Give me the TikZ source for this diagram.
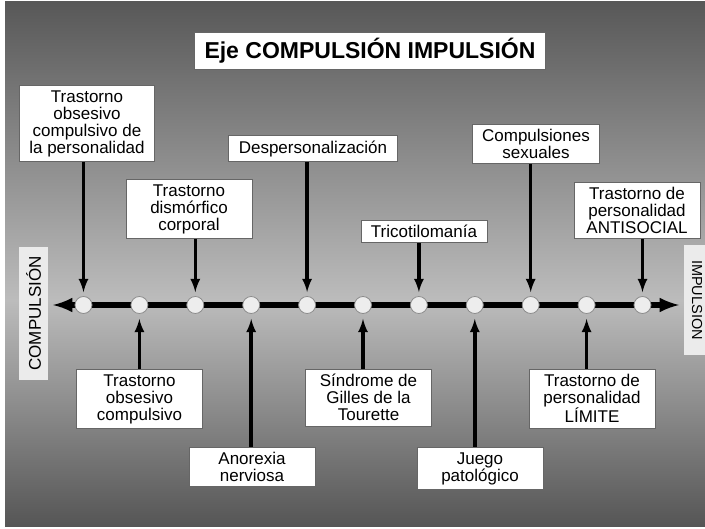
\documentclass[tikz,border=0pt]{standalone}
\usepackage{fontspec}
\setmainfont{Liberation Sans}
\definecolor{bgtop}{HTML}{585858}
\definecolor{bgmid}{HTML}{BCBCBC}
\definecolor{bgbot}{HTML}{555555}
\begin{document}
\begin{tikzpicture}[x=1pt, y=-1pt,
  box/.style={draw=black!60, line width=0.8pt, fill=white, align=center,
    font=\fontsize{17}{17}\selectfont, inner xsep=10pt, inner ysep=5pt,
    minimum width=126pt},
  side/.style={fill=black!8, font=\fontsize{17}{17}\selectfont, minimum height=29pt},
  dot/.style={circle, draw=black!45, fill=black!7, line width=0.8pt,
    minimum size=17pt, inner sep=0pt},
  down/.style={-latex, line width=3.5pt, shorten >=4pt},
  up/.style={-latex, line width=3.5pt, shorten >=5pt}]
\useasboundingbox (0,0) rectangle (705,529);
\fill[white] (0,0) rectangle (705,529);
\shade[top color=bgtop, bottom color=bgmid] (5,2) rectangle (705,300);
\shade[top color=bgmid, bottom color=bgbot] (5,300) rectangle (705,527);

\node[box, font=\fontsize{23}{23}\selectfont\bfseries, minimum height=37pt] (title) at (370,50.5) {Eje COMPULSIÓN IMPULSIÓN};

% axis
\coordinate (axl) at (53,305);
\coordinate (axr) at (679,305);
\draw[latex-latex, line width=5.5pt] (axl) -- (axr);
\foreach \i in {0,...,10}
  \node[dot] (p\i) at (83.5+55.9*\i,305) {};

\node[side, rotate=90, minimum width=133pt] (lcomp) at (33.5,313.5) {COMPULSIÓN};
\node[side, rotate=-90, minimum width=110pt, minimum height=26pt,
  font=\fontsize{14.5}{14.5}\selectfont] (limp) at (697,300) {IMPULSION};

% above the axis
\node[box, anchor=south] (tocp) at (87,162) {Trastorno\\obsesivo\\compulsivo de\\la personalidad};
\node[box, anchor=south] (desp) at (313,162) {Despersonalización};
\node[box, anchor=south] (comp) at (536,164) {Compulsiones\\sexuales};
\node[box, anchor=south] (dism) at (189,239) {Trastorno\\dismórfico\\corporal};
\node[box, anchor=south] (trico) at (424,243) {Tricotilomanía};
\node[box, anchor=south] (anti) at (637,239) {Trastorno de\\personalidad\\ANTISOCIAL};

% below the axis
\node[box, anchor=north] (toc) at (139.5,369) {Trastorno\\obsesivo\\compulsivo};
\node[box, anchor=north] (anor) at (252,447) {Anorexia\\nerviosa};
\node[box, anchor=north] (sind) at (368.5,369) {Síndrome de\\Gilles de la\\Tourette};
\node[box, anchor=north] (juego) at (480,447) {Juego\\patológico};
\node[box, anchor=north] (limite) at (592,369) {Trastorno de\\personalidad\\LÍMITE};

\draw[down] (tocp.south -| p0) -- (p0);
\draw[down] (dism.south -| p2) -- (p2);
\draw[down] (desp.south -| p4) -- (p4);
\draw[down] (trico.south -| p6) -- (p6);
\draw[down] (comp.south -| p8) -- (p8);
\draw[down] (anti.south -| p10) -- (p10);

\draw[up] (toc.north -| p1) -- (p1);
\draw[up] (anor.north -| p3) -- (p3);
\draw[up] (sind.north -| p5) -- (p5);
\draw[up] (juego.north -| p7) -- (p7);
\draw[up] (limite.north -| p9) -- (p9);
\end{tikzpicture}
\end{document}
